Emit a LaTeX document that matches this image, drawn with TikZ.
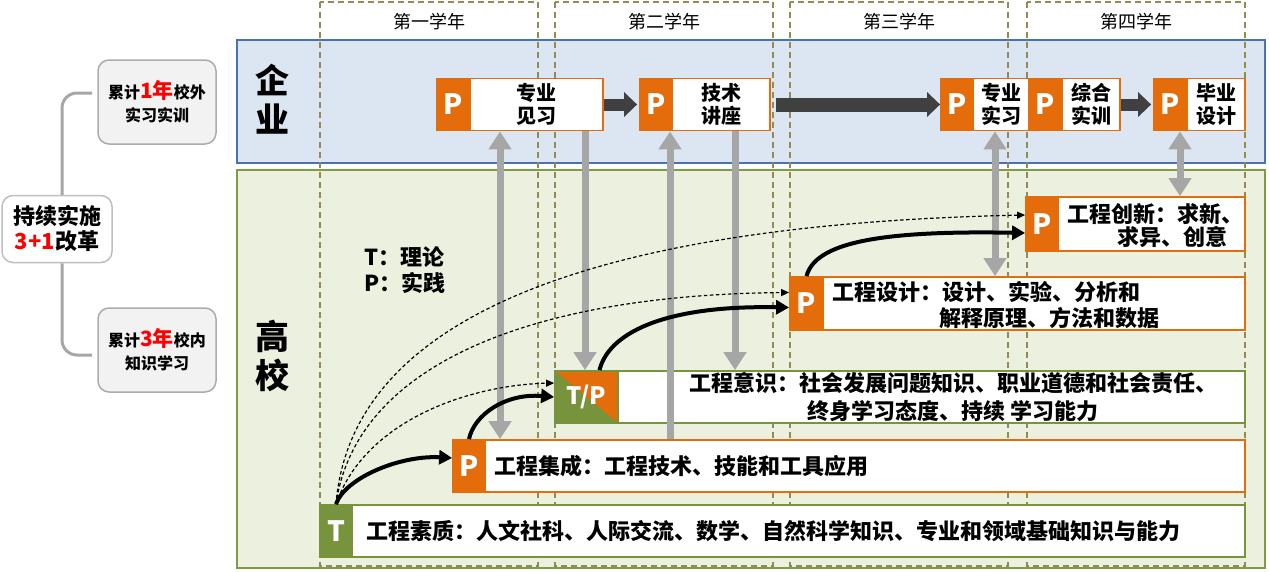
\documentclass[tikz,border=0pt]{standalone}
\usepackage{fontspec}
\setmainfont{Noto Sans CJK SC}
\usetikzlibrary{arrows.meta}

\newcommand{\setfs}[2]{\fontsize{#1}{#2}\selectfont}

\definecolor{porange}{RGB}{228,108,10}
\definecolor{tgreen}{RGB}{119,147,60}
\definecolor{entfill}{RGB}{220,230,242}
\definecolor{entline}{RGB}{74,114,176}
\definecolor{schfill}{RGB}{235,241,222}
\definecolor{schline}{RGB}{126,155,70}
\definecolor{yearline}{RGB}{148,138,84}
\definecolor{linkgray}{RGB}{166,166,166}
\definecolor{flowgray}{RGB}{64,64,64}
\definecolor{sidefill}{RGB}{242,242,242}

\tikzset{
  ptag/.style={fill=porange, draw=porange, line width=1.8pt, text=white,
    font=\bfseries\setfs{28}{28}, minimum height=52, inner sep=0pt},
  ttag/.style={ptag, fill=tgreen, draw=tgreen},
  tptag/.style={ptag, draw=tgreen, font=\bfseries\setfs{24}{24},
    path picture={\fill[tgreen] (path picture bounding box.north west)
      -- (path picture bounding box.south east)
      -- (path picture bounding box.south west) -- cycle;}},
  obox/.style={draw=porange, fill=white, line width=1.8pt, minimum height=52,
    inner sep=0pt, align=center, font=\bfseries\setfs{20}{23}},
  gbox/.style={obox, draw=tgreen},
  rowtext/.style={inner sep=0pt, font=\bfseries\setfs{22}{26}},
  yearlbl/.style={font=\setfs{18}{18}},
  yearcol/.style={draw=yearline, line width=1.5pt, dash pattern=on 6pt off 4pt},
  bandlbl/.style={align=center, font=\bfseries\setfs{34}{39}},
  sidebox/.style={draw=gray!65, fill=sidefill, line width=1.5pt, rounded corners=11pt,
    align=center, font=\bfseries\setfs{16}{23}},
  planbox/.style={draw=gray!50, fill=white, line width=1.5pt, rounded corners=11pt,
    align=center, font=\bfseries\setfs{22}{25}},
  bracket/.style={draw=gray!70, line width=3pt, rounded corners=15pt},
  glink/.style={draw=linkgray, line width=7pt},
  gboth/.style={glink, {Triangle[width=22pt,length=18pt]}-{Triangle[width=22pt,length=18pt]}},
  gdown/.style={glink, -{Triangle[width=22pt,length=18pt]}},
  flow/.style={draw=flowgray, line width=12pt, -{Triangle[width=24pt,length=13pt]}},
  stepup/.style={draw=black, line width=4pt, -{Triangle[width=14pt,length=13pt]}},
  hint/.style={draw=black, line width=1.2pt, dash pattern=on 3.5pt off 2.5pt,
    -{Triangle[width=7pt,length=8pt]}}
}

\begin{document}
\begin{tikzpicture}[x=1pt,y=-1pt]
\useasboundingbox (0,0) rectangle (1269,571);

% bands
\draw[fill=entfill, draw=entline, line width=1.5pt] (237,40) rectangle (1265,163);
\draw[fill=schfill, draw=schline, line width=1.5pt] (237,170) rectangle (1265,568);
\node[bandlbl] (entlbl) at (272,99) {企\\业};
\node[bandlbl] (schlbl) at (272,356) {高\\校};

% years
\draw[yearcol] (320,2) rectangle (538,566);
\draw[yearcol] (555,2) rectangle (773,566);
\draw[yearcol] (790,2) rectangle (1008,566);
\draw[yearcol] (1027,2) rectangle (1245,566);
\node[yearlbl] (y1) at (429,22) {第一学年};
\node[yearlbl] (y2) at (664,22) {第二学年};
\node[yearlbl] (y3) at (899,22) {第三学年};
\node[yearlbl] (y4) at (1136,22) {第四学年};

% left side
\node[planbox, minimum width=110, minimum height=67] (plan) at (57,229)
  {持续实施\\{\color{red}3+1}改革};
\node[sidebox, minimum width=118, minimum height=84] (offcampus) at (157,102)
  {累计{\color{red}\setfs{21}{23}1年}校外\\实习实训};
\node[sidebox, minimum width=118, minimum height=84] (oncampus) at (157,350)
  {累计{\color{red}\setfs{21}{23}3年}校内\\知识学习};
\coordinate (brA) at (92,93);
\coordinate (brB) at (92,355);
\draw[bracket] (brA) -| ([xshift=5pt]plan.north);
\draw[bracket] (brB) -| ([xshift=5pt]plan.south);

% enterprise row
\node[ptag, minimum width=33] (jxP) at (453.5,104.5) {P};
\node[obox, minimum width=133] (jx) at (536.5,104.5) {专业\\见习};
\node[ptag, minimum width=32] (jzP) at (656,104.5) {P};
\node[obox, minimum width=98] (jz) at (721,104.5) {技术\\讲座};
\node[ptag, minimum width=32] (sxP) at (957,104.5) {P};
\node[obox, minimum width=56] (sx) at (1001,104.5) {专业\\实习};
\node[ptag, minimum width=33] (zhP) at (1045.5,104.5) {P};
\node[obox, minimum width=58] (zh) at (1091,104.5) {综合\\实训};
\node[ptag, minimum width=33] (byP) at (1170.5,104.5) {P};
\node[obox, minimum width=58] (by) at (1216,104.5) {毕业\\设计};

\draw[flow] (jx.east) -- ([xshift=-2pt]jzP.west);
\draw[flow, line width=14pt] ([xshift=5pt]jz.east) -- (sxP.west);
\draw[flow] (zh.east) -- ([xshift=-2pt]byP.west);

% school rows
\node[obox, minimum width=187, minimum height=54] (cx) at (1151.5,224) {};
\node[ptag, minimum width=32, minimum height=54] (cxP) at (1042,224) {P};
\node[rowtext, anchor=west, align=left, font=\bfseries\setfs{22}{23}] (cxtxt) at (1067,226)
  {工程创新：求新、\\\hspace*{50pt}求异、创意};

\node[obox, minimum width=422, minimum height=53] (sj) at (1034,303.5) {};
\node[ptag, minimum width=33, minimum height=53] (sjP) at (806.5,303.5) {P};
\node[rowtext, anchor=west, align=left] (sjtxt) at (832,305)
  {工程设计：设计、实验、分析和\\\hspace*{107pt}解释原理、方法和数据};

\node[gbox, minimum width=627] (ys) at (931.5,397) {};
\node[tptag, minimum width=63] (ysTP) at (586.5,397) {T/P};
\node[rowtext, align=center, font=\bfseries\setfs{22}{28}] (ystxt) at (953,397)
  {工程意识：社会发展问题知识、职业道德和社会责任、\\终身学习态度、持续 学习能力};

\node[obox, minimum width=760] (jc) at (865,466) {};
\node[ptag, minimum width=32] (jcP) at (469,466) {P};
\node[rowtext, anchor=west] (jctxt) at (494,466) {工程集成：工程技术、技能和工具应用};

\node[gbox, minimum width=893] (sz) at (798.5,531) {};
\node[ttag, minimum width=32] (szT) at (336,531) {T};
\node[rowtext, anchor=west] (sztxt) at (366,531)
  {工程素质：人文社科、人际交流、数学、自然科学知识、专业和领域基础知识与能力};

\node[rowtext, anchor=west, align=left] (key) at (364,270) {T：理论\\P：实践};

% links between enterprise and school
\coordinate (g1) at (500,0);
\coordinate (g2) at (585,0);
\coordinate (g3) at (670,0);
\coordinate (g4) at (735,0);
\coordinate (g5) at (995,0);
\coordinate (g6) at (1180,0);
\draw[gboth] (jx.south -| g1) -- (jc.north -| g1);
\draw[gdown] (jx.south -| g2) -- (ysTP.north -| g2);
\draw[gdown] (jc.north -| g3) -- (jzP.south -| g3);
\draw[gdown] (jz.south -| g4) -- (ys.north -| g4);
\draw[gboth] (sx.south -| g5) -- (sj.north -| g5);
\draw[gboth] (by.south -| g6) -- (cx.north -| g6);

% growth path
\draw[stepup] (szT.north) .. controls (345,478) and (400,455) .. ([yshift=8pt]jcP.west);
\draw[stepup] (jcP.north) .. controls (474,415) and (505,393) .. (ysTP.west);
\draw[stepup] ([xshift=13pt]ysTP.north) .. controls (608,335) and (660,305) .. ([yshift=-4pt]sjP.west);
\draw[stepup] (sjP.north) .. controls (815,245) and (870,230) .. ([yshift=-9pt]cxP.west);
\draw[hint] (szT.north) .. controls (350,330) and (560,225) .. ([yshift=9pt]cxP.west);
\draw[hint] (szT.north) .. controls (355,370) and (520,295) .. ([yshift=11pt]sjP.west);
\draw[hint] (szT.north) .. controls (365,420) and (470,385) .. ([yshift=14pt]ysTP.west);
\end{tikzpicture}
\end{document}
